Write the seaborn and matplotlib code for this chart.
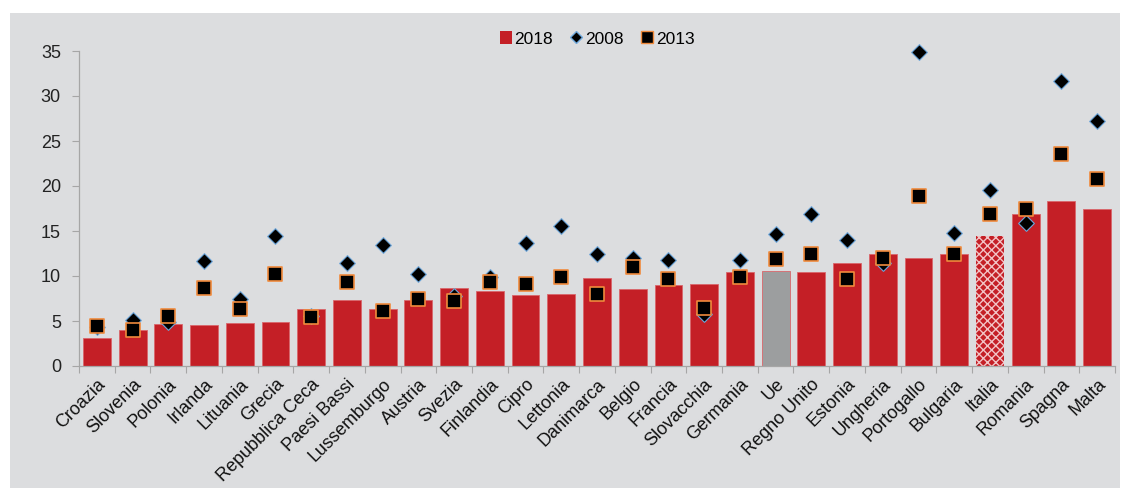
import matplotlib
matplotlib.use('Agg')
import matplotlib.pyplot as plt
from matplotlib.lines import Line2D
from matplotlib.patches import Patch, Rectangle
import pandas as pd
import seaborn as sns

paesi = ['Croazia', 'Slovenia', 'Polonia', 'Irlanda', 'Lituania', 'Grecia',
         'Repubblica Ceca', 'Paesi Bassi', 'Lussemburgo', 'Austria', 'Svezia',
         'Finlandia', 'Cipro', 'Lettonia', 'Danimarca', 'Belgio', 'Francia',
         'Slovacchia', 'Germania', 'Ue', 'Regno Unito', 'Estonia', 'Ungheria',
         'Portogallo', 'Bulgaria', 'Italia', 'Romania', 'Spagna', 'Malta']
v2018 = [3.1, 4.0, 4.7, 4.6, 4.8, 4.9, 6.3, 7.3, 6.3, 7.3, 8.7, 8.3, 7.9, 8.0,
         9.8, 8.6, 9.0, 9.1, 10.4, 10.6, 10.5, 11.4, 12.5, 12.0, 12.4, 14.5,
         16.9, 18.3, 17.5]
v2008 = [4.3, 5.1, 4.9, 11.7, 7.5, 14.4, 5.6, 11.4, 13.4, 10.2, 7.8, 9.9, 13.7,
         15.6, 12.5, 12.0, 11.8, 5.8, 11.8, 14.7, 16.9, 14.0, 11.5, 34.9, 14.8,
         19.6, 15.9, 31.7, 27.2]
v2013 = [4.5, 4.0, 5.6, 8.7, 6.3, 10.2, 5.4, 9.3, 6.1, 7.5, 7.2, 9.3, 9.1, 9.9,
         8.0, 11.0, 9.7, 6.4, 9.9, 11.9, 12.4, 9.7, 12.0, 18.9, 12.5, 16.9,
         17.4, 23.6, 20.8]

df = pd.DataFrame({'paese': paesi, '2018': v2018, '2008': v2008, '2013': v2013})

rosso = '#C41F26'
grigio = '#9C9E9F'
sfondo = '#DCDDDF'
colori = {p: (grigio if p == 'Ue' else rosso) for p in paesi}

plt.rcParams['font.family'] = ['Liberation Sans', 'DejaVu Sans']

fig = plt.figure(figsize=(11.28, 4.88), dpi=100)
fig.patch.set_facecolor('white')
fig.patches.append(Rectangle((10 / 1128, 0), 1110 / 1128, 1 - 13 / 488,
                             transform=fig.transFigure, facecolor=sfondo,
                             edgecolor='none', zorder=-10))
ax = fig.add_axes([79 / 1128, 1 - 366 / 488, 1036 / 1128, 315 / 488])
ax.set_facecolor(sfondo)

sns.barplot(data=df, x='paese', y='2018', hue='paese', palette=colori,
            order=paesi, width=0.78, legend=False, ax=ax, zorder=2,
            saturation=1, edgecolor='#D9666B', linewidth=0.6)

# Italia con il retino
idx_it = paesi.index('Italia')
barra_it = ax.patches[idx_it]
barra_it.set_hatch('xxxx')
barra_it.set_edgecolor('#F2C4C6')
barra_it.set_linewidth(0)

sns.stripplot(data=df, x='paese', y='2008', order=paesi, jitter=False,
              marker='D', size=8, color='black', edgecolor='#6FA8DC',
              linewidth=0.8, ax=ax, zorder=4, clip_on=False)
sns.stripplot(data=df, x='paese', y='2013', order=paesi, jitter=False,
              marker='s', size=10.5, color='black', edgecolor='#F08A3C',
              linewidth=1.2, ax=ax, zorder=5, clip_on=False)

ax.set_ylim(0, 35)
ax.set_xlim(-0.5, len(paesi) - 0.5)
ax.set_yticks(range(0, 36, 5))
ax.set_xlabel('')
ax.set_ylabel('')

for s in ['top', 'right']:
    ax.spines[s].set_visible(False)
for s in ['left', 'bottom']:
    ax.spines[s].set_color('#A6A6A6')
    ax.spines[s].set_linewidth(0.9)

ax.set_xticks([i + 0.5 for i in range(-1, len(paesi))], minor=False)
ax.set_xticklabels([])
ax.set_xticks(range(len(paesi)), minor=True)
ax.set_xticklabels(paesi, minor=True, rotation=45, ha='right',
                   rotation_mode='anchor', fontsize=13, color='#111111')
ax.tick_params(axis='x', which='major', length=5, color='#A6A6A6', direction='out')
ax.tick_params(axis='x', which='minor', length=0, pad=7)
ax.tick_params(axis='y', length=5, color='#A6A6A6', labelsize=13,
               labelcolor='#222222', pad=8)

handles = [Patch(facecolor=rosso, edgecolor='none'),
           Line2D([], [], marker='D', linestyle='none', markersize=6,
                  markerfacecolor='black', markeredgecolor='#6FA8DC'),
           Line2D([], [], marker='s', linestyle='none', markersize=8,
                  markerfacecolor='black', markeredgecolor='#F08A3C')]
fig.legend(handles, ['2018', '2008', '2013'], loc='center',
           bbox_to_anchor=(597 / 1128, 1 - 39 / 488), ncol=3, frameon=False,
           fontsize=12.5, handlelength=0.7, handletextpad=0.15,
           columnspacing=1.0, handleheight=0.7)

fig.savefig('out.png', dpi=100, facecolor=fig.get_facecolor())
